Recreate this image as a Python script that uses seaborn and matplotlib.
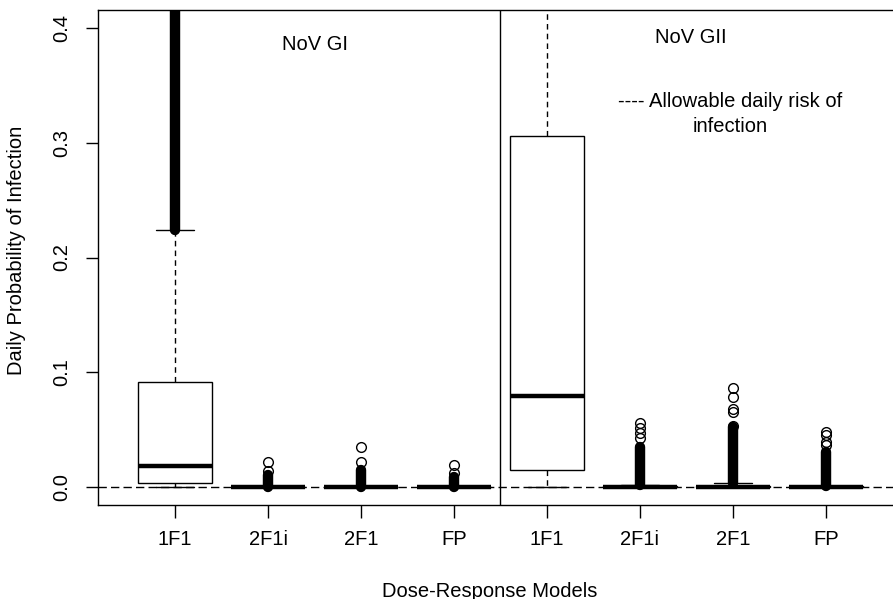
import numpy as np
import pandas as pd
import seaborn as sns
import matplotlib.pyplot as plt

# Box statistics (NoV GI models first, then NoV GII)
models = ['1F1', '2F1i', '2F1', 'FP', '1F1', '2F1i', '2F1', 'FP']
q1 = [0.0032, 0.0, 0.0, 0.0, 0.0148, 0.0, 0.0, 0.0]
med = [0.0183, 0.0, 0.0, 0.0, 0.0793, 0.0, 0.0, 0.0]
q3 = [0.0915, 0.0, 0.0, 0.0, 0.306, 0.0008, 0.0012, 0.0006]
whis_lo = [0.0003, 0.0, 0.0, 0.0, 0.0, 0.0, 0.0, 0.0]
whis_hi = [0.224, 0.0, 0.0, 0.0, 0.75, 0.0017, 0.0038, 0.0012]
# range covered by overlapping outliers (drawn as a solid column)
dense_lo = [0.224, 0.0, 0.0, 0.0, np.nan, 0.0017, 0.0038, 0.0012]
dense_hi = [0.80, 0.0105, 0.0148, 0.009, np.nan, 0.0351, 0.0526, 0.0308]
# separate outliers above the dense column
fliers = [
    [],
    [0.0142, 0.022],
    [0.022, 0.0349],
    [0.0125, 0.0192],
    [],
    [0.0424, 0.0468, 0.0511, 0.0555],
    [0.0534, 0.0656, 0.0677, 0.0787, 0.086],
    [0.0366, 0.0395, 0.0453, 0.0482],
]
allowable_risk = 0.0

sns.set_theme(style="white", rc={'text.color': 'black', 'axes.labelcolor': 'black',
                                 'xtick.color': 'black', 'ytick.color': 'black',
                                 'axes.edgecolor': 'black'})
plt.rcParams['font.family'] = ['Liberation Sans', 'DejaVu Sans']

fig = plt.figure(figsize=(8.93, 5.99), dpi=100)
ax = fig.add_axes([98 / 893, 1 - 505 / 599, 1 - 98 / 893, 495 / 599])

pos = np.arange(1, len(models) + 1)
stats = pd.DataFrame({'q1': q1, 'med': med, 'q3': q3,
                      'whislo': whis_lo, 'whishi': whis_hi})
bxp_stats = []
for i, row in stats.iterrows():
    d = row.to_dict()
    d['fliers'] = fliers[i]
    bxp_stats.append(d)

# reference line for allowable daily risk
ax.axhline(allowable_risk, color='black', lw=1, ls=(0, (6, 3)), zorder=1)

ax.bxp(bxp_stats, positions=pos, widths=0.8, capwidths=0.4, patch_artist=True,
       boxprops=dict(facecolor='white', edgecolor='black', lw=1),
       medianprops=dict(color='black', lw=3.2, solid_capstyle='butt'),
       whiskerprops=dict(color='black', lw=1, ls=(0, (4, 3))),
       capprops=dict(color='black', lw=1),
       flierprops=dict(marker='o', markerfacecolor='none',
                       markeredgecolor='black', markersize=7, mew=1),
       zorder=2)

ax.vlines(pos, dense_lo, dense_hi, color='black', lw=7.5, capstyle='round', zorder=3)

# panel divider
ax.axvline(4.5, color='black', lw=1)

ax.set_xlim(1 - 77 / 93, 8 + 67 / 93)
ax.set_ylim(-18 / 1147.5, 477 / 1147.5)

ax.set_xticks(pos)
ax.set_xticklabels(models, fontsize=14.5)
ax.set_yticks([0.0, 0.1, 0.2, 0.3, 0.4])
ax.set_yticklabels(['0.0', '0.1', '0.2', '0.3', '0.4'], fontsize=14.5,
                   rotation=90, va='center')
ax.tick_params(axis='both', direction='out', length=9, width=1, color='black',
               bottom=True, left=True)
ax.tick_params(axis='x', pad=9)
ax.tick_params(axis='y', pad=10)

for s in ['left', 'bottom', 'top']:
    ax.spines[s].set_color('black')
    ax.spines[s].set_linewidth(1)
ax.spines['right'].set_visible(False)

ax.set_ylabel('Daily Probability of Infection', fontsize=14.5)
ax.yaxis.set_label_coords(-0.09, 0.515)
ax.set_xlabel('Dose-Response Models', fontsize=14.5)
ax.xaxis.set_label_coords(0.493, -0.155)

ax.text(2.5, 0.386, 'NoV GI', fontsize=14.5, ha='center', va='center')
ax.text(6.55, 0.392, 'NoV GII', fontsize=14.5, ha='center', va='center')
ax.text(6.97, 0.325, '---- Allowable daily risk of\ninfection', fontsize=14.5,
        ha='center', va='center', linespacing=1.35)

fig.savefig('out.png', dpi=100)
